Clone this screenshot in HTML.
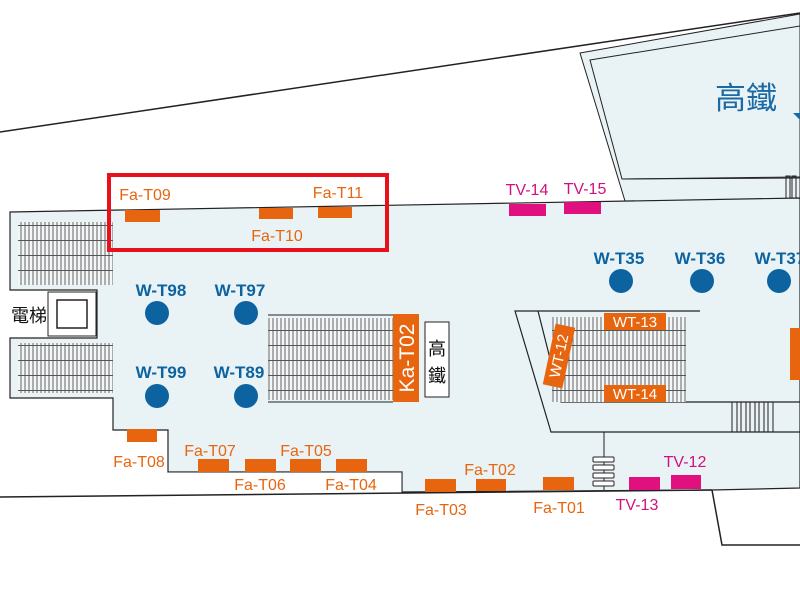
<!DOCTYPE html>
<html><head><meta charset="utf-8"><style>
html,body{margin:0;padding:0;background:#fff;width:800px;height:600px;overflow:hidden}
svg{display:block}
text{font-family:"Liberation Sans","Noto Sans CJK TC",sans-serif}
</style></head><body>
<svg width="800" height="600" viewBox="0 0 800 600" xmlns="http://www.w3.org/2000/svg">
<defs>
<pattern id="st" width="4" height="15" patternUnits="userSpaceOnUse">
<rect width="4" height="15" fill="#f2f6f7"/>
<line x1="1" y1="0" x2="1" y2="15" stroke="#666" stroke-width="1"/>
<line x1="0" y1="0.5" x2="4" y2="0.5" stroke="#555" stroke-width="1"/>
</pattern>
</defs>
<rect width="800" height="600" fill="#fff"/>
<line x1="0" y1="132" x2="800" y2="13" stroke="#222" stroke-width="1.5"/>
<polygon points="580,53 800,14 800,200 625,201" fill="#e9f3f5" stroke="#222" stroke-width="1"/>
<polygon points="590,60 800,26 800,178 622,179" fill="#e9f3f5" stroke="#222" stroke-width="1"/>
<line x1="622" y1="179" x2="800" y2="177" stroke="#222"/>
<rect x="786" y="176" width="4" height="24" fill="none" stroke="#222"/>
<rect x="792" y="176" width="4" height="24" fill="none" stroke="#222"/>
<text x="746" y="109" font-size="31" fill="#1b6aa5" text-anchor="middle">高鐵</text>
<polygon points="793,113 800,113 800,120" fill="#1b6aa5"/>
<polygon points="10,212 800,198 800,488 712,490 402,492 402,472 168,472 168,430 113,430 113,398 10,398 10,338 97,338 97,290 10,290" fill="#e9f3f5" stroke="#222" stroke-width="1.2"/>
<rect x="168" y="472" width="234" height="20" fill="#fff"/>
<line x1="168" y1="472" x2="402" y2="472" stroke="#222"/>
<line x1="402" y1="472" x2="402" y2="492" stroke="#222"/>
<line x1="0" y1="497" x2="712" y2="490" stroke="#222" stroke-width="1.5"/>
<polyline points="712,490 722,545 800,545" fill="none" stroke="#222" stroke-width="1.5"/>
<rect x="48" y="292" width="48" height="44" fill="#fff" stroke="#222"/>
<rect x="57" y="300" width="30" height="28" fill="#fff" stroke="#222" stroke-width="1.5"/>
<text x="29" y="322" font-size="18" fill="#111" text-anchor="middle">電梯</text>
<rect x="18" y="222" width="95" height="63" fill="url(#st)"/>
<rect x="18" y="343" width="95" height="50" fill="url(#st)"/>
<rect x="268" y="318" width="125" height="82" fill="url(#st)"/>
<line x1="268" y1="315" x2="393" y2="315" stroke="#222"/>
<line x1="268" y1="402" x2="393" y2="402" stroke="#222"/>
<rect x="393" y="314" width="26" height="88" fill="#e8650f"/>
<text transform="translate(414,358) rotate(-90)" font-size="21" fill="#fff" text-anchor="middle">Ka-T02</text>
<rect x="425" y="322" width="24" height="75" fill="#fff" stroke="#222"/>
<text x="437" y="355" font-size="18" fill="#111" text-anchor="middle">高</text>
<text x="437" y="382" font-size="18" fill="#111" text-anchor="middle">鐵</text>
<polyline points="700,311 515,311 551,432 800,432" fill="none" stroke="#222" stroke-width="1.2"/>
<polyline points="538,311 561,402 800,402" fill="none" stroke="#222" stroke-width="1.2"/>
<rect x="552" y="317" width="134" height="85" fill="url(#st)"/>
<g stroke="#222" fill="none"><rect x="732" y="402" width="5" height="30"/><rect x="741" y="402" width="5" height="30"/><rect x="750" y="402" width="5" height="30"/><rect x="759" y="402" width="5" height="30"/><rect x="768" y="402" width="5" height="30"/></g>
<rect x="604" y="313" width="62" height="17" fill="#e8650f"/>
<text x="635" y="327" font-size="15" fill="#fff" text-anchor="middle">WT-13</text>
<rect x="604" y="385" width="62" height="17" fill="#e8650f"/>
<text x="635" y="399" font-size="15" fill="#fff" text-anchor="middle">WT-14</text>
<g transform="translate(559,356) rotate(-78)"><rect x="-31" y="-10" width="62" height="20" fill="#e8650f"/><text x="0" y="5" font-size="15" fill="#fff" text-anchor="middle">WT-12</text></g>
<rect x="790" y="328" width="10" height="52" fill="#e8650f"/>
<line x1="604" y1="432" x2="604" y2="490" stroke="#222"/>
<g fill="#fff" stroke="#222"><rect x="593" y="457" width="21" height="5" rx="1"/><rect x="593" y="465" width="21" height="5" rx="1"/><rect x="593" y="473" width="21" height="5" rx="1"/><rect x="593" y="481" width="21" height="5" rx="1"/></g>
<g fill="#0d63a0"><circle cx="157" cy="313" r="12"/><circle cx="246" cy="313" r="12"/><circle cx="157" cy="396" r="12"/><circle cx="246" cy="396" r="12"/><circle cx="621" cy="281" r="12"/><circle cx="702" cy="281" r="12"/><circle cx="779" cy="281" r="12"/></g>
<g font-size="17" font-weight="bold" fill="#0d63a0" text-anchor="middle">
<text x="161" y="296">W-T98</text><text x="240" y="296">W-T97</text>
<text x="161" y="378">W-T99</text><text x="239" y="378">W-T89</text>
<text x="619" y="264">W-T35</text><text x="700" y="264">W-T36</text><text x="780" y="264">W-T37</text>
</g>
<g fill="#e8650f">
<rect x="125" y="210" width="35" height="12"/><rect x="259" y="208" width="34" height="11"/><rect x="318" y="207" width="34" height="11"/>
<rect x="127" y="429" width="30" height="13"/><rect x="198" y="459" width="31" height="13"/><rect x="245" y="459" width="31" height="13"/><rect x="290" y="459" width="31" height="13"/><rect x="336" y="459" width="31" height="13"/>
<rect x="425" y="479" width="31" height="13"/><rect x="476" y="479" width="30" height="12"/><rect x="543" y="477" width="31" height="13"/>
</g>
<g fill="#e0107f"><rect x="509" y="204" width="37" height="12"/><rect x="564" y="202" width="37" height="12"/><rect x="629" y="477" width="31" height="13"/><rect x="671" y="475" width="30" height="14"/></g>
<g font-size="16" fill="#e8650f" text-anchor="middle">
<text x="145" y="200">Fa-T09</text><text x="338" y="198">Fa-T11</text><text x="277" y="241">Fa-T10</text>
<text x="139" y="467">Fa-T08</text><text x="210" y="456">Fa-T07</text><text x="260" y="490">Fa-T06</text><text x="306" y="456">Fa-T05</text><text x="351" y="490">Fa-T04</text>
<text x="441" y="515">Fa-T03</text><text x="490" y="475">Fa-T02</text><text x="559" y="513">Fa-T01</text>
</g>
<g font-size="16" fill="#d0107f" text-anchor="middle">
<text x="527" y="195">TV-14</text><text x="585" y="194">TV-15</text><text x="637" y="510">TV-13</text><text x="685" y="467">TV-12</text>
</g>
<rect x="109" y="175" width="278" height="75" fill="none" stroke="#e8101a" stroke-width="4"/>
</svg>
</body></html>
